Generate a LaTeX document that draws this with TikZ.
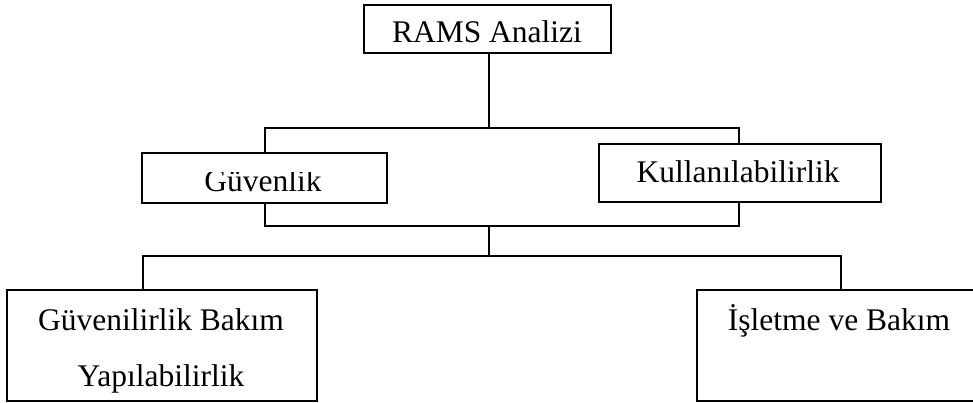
\documentclass[tikz,border=0pt]{standalone}
\usepackage{fontspec}
\setmainfont{Liberation Serif}
\begin{document}
\begin{tikzpicture}[x=1pt,y=-1pt,
  line width=2pt,
  box/.style={draw,line width=2pt,inner sep=0pt,outer sep=0pt},
  label/.style={inner sep=0pt,anchor=base,font=\fontsize{31.5}{38}\selectfont},
  link/.style={draw,line width=2pt,line cap=rect}]
  \clip (0,0) rectangle (973,403);
  \useasboundingbox (0,0) rectangle (973,403);

  % boxes
  \node[box,minimum width=247pt,minimum height=48pt] (rams) at (487.5,29) {};
  \node[box,minimum width=245pt,minimum height=50pt] (guv) at (264.5,178) {};
  \node[box,minimum width=282pt,minimum height=58pt] (kul) at (740,173) {};
  \node[box,minimum width=310pt,minimum height=111pt] (rel) at (162,345.5) {};
  \node[box,minimum width=290pt,minimum height=111pt] (ops) at (842,345.5) {};

  % labels
  \node[label] (tRams) at (487,43) {RAMS Analizi};
  \begin{scope}
    % the label of this box shows only below a cut-off line
    \clip (guv.west |- 0,172.5) rectangle (guv.south east);
    \node[label] (tGuv) at (263,192) {Güvenlik};
  \end{scope}
  \node[label] (tKul) at (738,183) {Kullanılabilirlik};
  \node[label] (tRel1) at (161,330) {Güvenilirlik Bakım};
  \node[label] (tRel2) at (161,386) {Yapılabilirlik};
  \node[label] (tOps) at (839,330) {İşletme ve Bakım};

  % bus coordinates
  \coordinate (busA) at (489,128);
  \coordinate (busB) at (489,226);
  \coordinate (busC) at (489,256);
  \coordinate (dropL) at (143,256);
  \coordinate (dropR) at (841,256);

  % connectors
  \draw[link] (rams.south -| busA) -- (busA);
  \draw[link] (guv.north) -- (guv.north |- busA) -- (739,128) -- (739,0 |- kul.north);
  \draw[link] (guv.south) -- (guv.south |- busB) -- (739,226) -- (739,0 |- kul.south);
  \draw[link] (busB) -- (busC);
  \draw[link] (dropL |- rel.north) -- (dropL) -- (dropR) -- (dropR |- ops.north);
\end{tikzpicture}
\end{document}
